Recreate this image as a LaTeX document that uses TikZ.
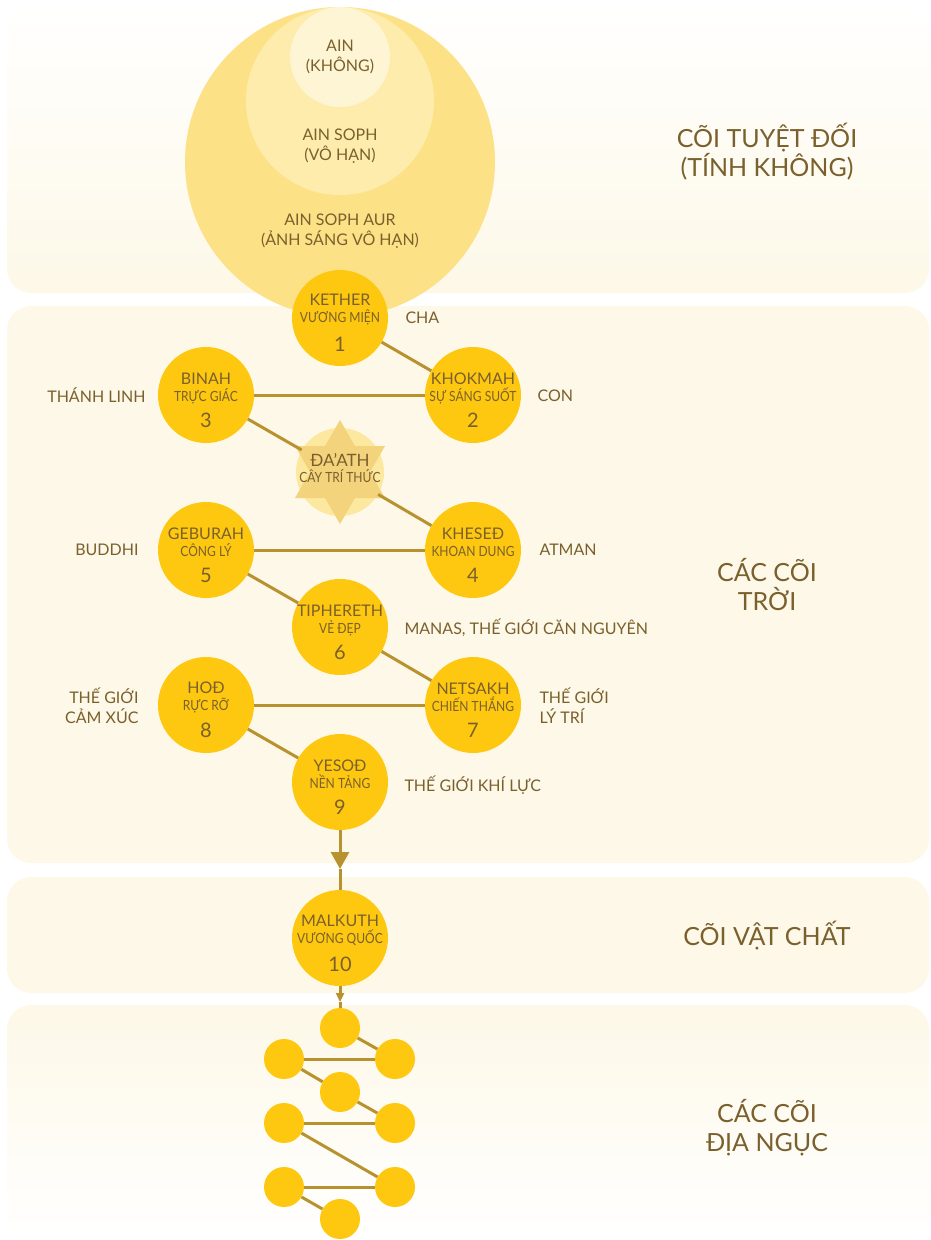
\documentclass[tikz,border=0pt]{standalone}
\usepackage{fontspec}
\setmainfont{Lato}
\newfontfamily\condfont{Lato}[FakeStretch=0.86]
\usetikzlibrary{arrows.meta}

\definecolor{sephgold}{RGB}{254,200,16}
\definecolor{linegold}{RGB}{184,146,46}
\definecolor{inkbrown}{RGB}{122,96,44}
\definecolor{bandcream}{RGB}{253,248,231}
\definecolor{aurouter}{RGB}{253,225,135}
\definecolor{aurmid}{RGB}{254,236,172}
\definecolor{aurinner}{RGB}{254,245,212}
\definecolor{daathfill}{RGB}{253,232,160}
\definecolor{daathstar}{RGB}{243,212,125}

\newcommand{\sephtop}{\rule{0pt}{21.5pt}}
\newcommand{\sephsub}{\condfont\fontsize{14}{16}\selectfont}
\newcommand{\sephnum}{\fontsize{20}{20}\selectfont}

\begin{document}
\begin{tikzpicture}[x=1pt, y=-1pt,
    band/.style={fill=bandcream, rounded corners=24pt},
    seph/.style={circle, fill=sephgold, minimum size=96pt, inner sep=-20pt,
        text=inkbrown, align=center, font=\fontsize{16}{17}\selectfont},
    shell/.style={circle, fill=sephgold, minimum size=40pt, inner sep=0pt},
    link/.style={draw=linegold, line width=3pt},
    aur/.style={circle, inner sep=0pt},
    aurtext/.style={text=inkbrown, align=center, font=\fontsize{16}{20}\selectfont},
    side/.style={text=inkbrown, font=\fontsize{16}{20}\selectfont},
    realm/.style={text=inkbrown, align=center, font=\fontsize{25}{29}\selectfont}]
    \useasboundingbox (0,0) rectangle (930,1240);

    % Bands
    \shade[top color=white, bottom color=bandcream, rounded corners=24pt] (7,4) rectangle (929,293);
    \fill[band] (7,306) rectangle (929,863);
    \fill[band] (7,877) rectangle (929,993);
    \shade[top color=bandcream, bottom color=white, rounded corners=24pt] (7,1005) rectangle (929,1238);

    % Ain circles
    \node[aur, fill=aurouter, minimum size=310pt] (aur) at (340,162) {};
    \node[aur, fill=aurmid, minimum size=188pt] (soph) at (340,101) {};
    \node[aur, fill=aurinner, minimum size=100pt] (ain) at (340,57) {};
    \node[aurtext] (aint) at (340,57) {AIN\\(KHÔNG)};
    \node[aurtext] (sopht) at (340,146) {AIN SOPH\\(VÔ HẠN)};
    \node[aurtext] (aurt) at (340,231) {AIN SOPH AUR\\(ẢNH SÁNG VÔ HẠN)};

    % Sephiroth
    \node[seph] (s1) at (340,318) {\sephtop KETHER\\{\sephsub VƯƠNG MIỆN}\\[12pt]{\sephnum 1}};
    \node[seph] (s2) at (473,395) {\sephtop KHOKMAH\\{\sephsub SỰ SÁNG SUỐT}\\[8pt]{\sephnum 2}};
    \node[seph] (s3) at (206,395) {\sephtop BINAH\\{\sephsub TRỰC GIÁC}\\[8pt]{\sephnum 3}};
    \node[seph] (s4) at (473,550) {\sephtop KHESEĐ\\{\sephsub KHOAN DUNG}\\[9pt]{\sephnum 4}};
    \node[seph] (s5) at (206,550) {\sephtop GEBURAH\\{\sephsub CÔNG LÝ}\\[9pt]{\sephnum 5}};
    \node[seph] (s6) at (340,627) {\sephtop TIPHERETH\\{\sephsub VẺ ĐẸP}\\[9pt]{\sephnum 6}};
    \node[seph] (s7) at (473,705) {\sephtop NETSAKH\\{\sephsub CHIẾN THẮNG}\\[9pt]{\sephnum 7}};
    \node[seph] (s8) at (206,705) {\sephtop HOĐ\\{\sephsub RỰC RỠ}\\[9pt]{\sephnum 8}};
    \node[seph] (s9) at (340,782) {\sephtop YESOĐ\\{\sephsub NỀN TẢNG}\\[9pt]{\sephnum 9}};
    \node[seph] (s10) at (340,938) {\sephtop MALKUTH\\{\sephsub VƯƠNG QUỐC}\\[11pt]{\sephnum 10}};

    % Da'ath
    \node[aur, fill=daathfill, minimum size=88pt] (da) at (340,472) {};
    \fill[daathstar] (340,420) -- (385,498) -- (295,498) -- cycle;
    \fill[daathstar] (340,524) -- (385,446) -- (295,446) -- cycle;
    \node[text=inkbrown, align=center, font=\fontsize{17}{16}\selectfont] (dat) at (340,468)
        {ĐA'ATH\\{\condfont\fontsize{14}{16}\selectfont CÂY TRÍ THỨC}};

    % Qliphoth
    \node[shell] (h1) at (340,1028) {};
    \node[shell] (h2) at (284,1059) {};
    \node[shell] (h3) at (395,1059) {};
    \node[shell] (h4) at (340,1092) {};
    \node[shell] (h5) at (284,1123) {};
    \node[shell] (h6) at (395,1123) {};
    \node[shell] (h7) at (284,1187) {};
    \node[shell] (h8) at (395,1187) {};
    \node[shell] (h9) at (340,1219) {};

    % Lines
    \draw[link] (s1) -- (s2);
    \draw[link] (s3) -- (s2);
    \draw[link] (s3) -- (da);
    \draw[link] (da) -- (s4);
    \draw[link] (s5) -- (s4);
    \draw[link] (s5) -- (s6);
    \draw[link] (s6) -- (s7);
    \draw[link] (s8) -- (s7);
    \draw[link] (s8) -- (s9);
    \coordinate (tip1) at (340,869);
    \coordinate (tip2) at (340,1002);
    \draw[link, -{Triangle[length=17pt, width=18pt]}] (s9) -- (tip1);
    \draw[link] (tip1) -- (s10);
    \draw[link, -{Triangle[length=9pt, width=8pt]}] (s10) -- (tip2);
    \draw[link] (tip2) -- (h1);
    \draw[link] (h1) -- (h3);
    \draw[link] (h2) -- (h3);
    \draw[link] (h2) -- (h4);
    \draw[link] (h4) -- (h6);
    \draw[link] (h5) -- (h6);
    \draw[link] (h5) -- (h8);
    \draw[link] (h7) -- (h8);
    \draw[link] (h7) -- (h9);

    % Side labels
    \node[side, anchor=west] (cha) at (402,318) {CHA};
    \node[side, anchor=west] (con) at (534,396) {CON};
    \node[side, anchor=east] (thanh) at (149,395) {THÁNH LINH};
    \node[side, anchor=east] (buddhi) at (142,550) {BUDDHI};
    \node[side, anchor=west] (atman) at (536,550) {ATMAN};
    \node[side, anchor=west] (manas) at (401,628) {MANAS, THẾ GIỚI CĂN NGUYÊN};
    \node[side, anchor=east, align=right] (camxuc) at (142,706) {THẾ GIỚI\\CẢM XÚC};
    \node[side, anchor=west, align=left] (lytri) at (536,706) {THẾ GIỚI\\LÝ TRÍ};
    \node[side, anchor=west] (khiluc) at (401,785) {THẾ GIỚI KHÍ LỰC};

    % Realms
    \node[realm] (r1) at (767,152) {CÕI TUYỆT ĐỐI\\(TÍNH KHÔNG)};
    \node[realm] (r2) at (767,585) {CÁC CÕI\\TRỜI};
    \node[realm] (r3) at (767,936) {CÕI VẬT CHẤT};
    \node[realm] (r4) at (767,1128) {CÁC CÕI\\ĐỊA NGỤC};
\end{tikzpicture}
\end{document}
